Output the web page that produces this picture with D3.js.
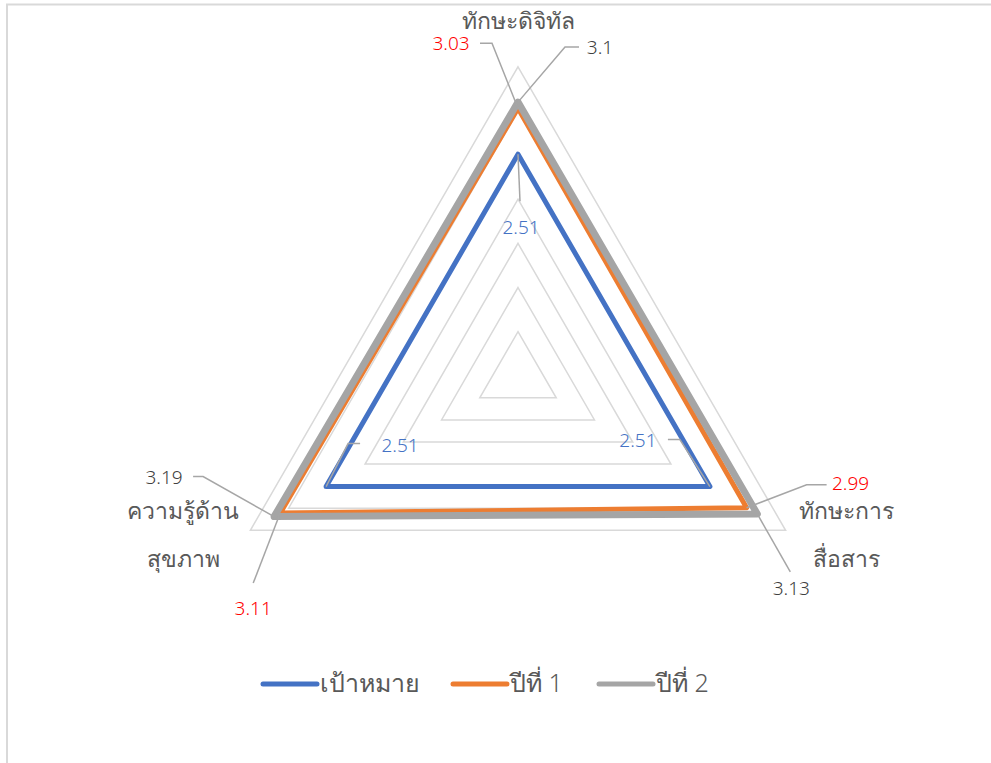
<!DOCTYPE html>
<html><head><meta charset="utf-8">
<script src="https://cdn.jsdelivr.net/npm/d3@7"></script>
<style>
html,body{margin:0;padding:0;background:#fff;}
svg{display:block;}
text{font-family:"Noto Sans","DejaVu Sans",sans-serif;}
</style></head>
<body>
<svg id="chart" width="991" height="763"></svg>
<script>
// ---- data ----
const categories = [["ทักษะดิจิทัล"], ["ทักษะการ", "สื่อสาร"], ["ความรู้ด้าน", "สุขภาพ"]];
const seriesNames = ["เป้าหมาย", "ปีที่ 1", "ปีที่ 2"];
const targetValues = [2.51, 2.51, 2.51];
const year1Values = [3.03, 2.99, 3.11];
const year2Values = [3.1, 3.13, 3.19];
const gridTicks = [0.5, 1, 1.5, 2, 2.5, 3, 3.5];

// ---- layout / style (kept separate from data) ----
const colors = ["#4472C4", "#ED7D31", "#A5A5A5"];
const widths = [5, 5, 7];
const labelColors = ["#4472C4", "#FF0000", "#404040"];
const cx = 518, cy = 375.8, R = 309;
// label placement offsets relative to the data point: [textDx, textDy, elbowDx, elbowDy, endDx, endDy]
const labelOffsets = [
  [[3, 73, 2, 47, 2, 47], [-67, -65, -26, -65, -38, -65], [82, -55, 47, -55, 61, -55]],
  [[-72, -47, -30, -47, -42, -47], [104, -25, 60, -23, 80, -23], [34, 74, 33, 58, 33, 58]],
  [[74, -42, 22, -43, 34, -43], [-27, 95, -27, 70, -27, 70], [-110, -40, -71, -40, -81, -40]]
];

const series = [targetValues, year1Values, year2Values];
const svg = d3.select("#chart");

// border
svg.append("path").attr("d", "M7,763 L7,4.5 L991,4.5").attr("fill", "none")
  .attr("stroke", "#d9d9d9").attr("stroke-width", 2);

const r = d3.scaleLinear().domain([0, 3.5]).range([0, R]);
const angle = d3.scaleLinear().domain([0, categories.length]).range([-Math.PI / 2, 1.5 * Math.PI]);
const pt = (i, v) => [cx + r(v) * Math.cos(angle(i)), cy + r(v) * Math.sin(angle(i))];
const line = d3.line().curve(d3.curveLinearClosed);

// grid
const g = svg.append("g");
g.selectAll("path.grid").data(gridTicks).join("path")
  .attr("class", "grid")
  .attr("d", t => line(categories.map((c, i) => pt(i, t))))
  .attr("fill", "none").attr("stroke", "#d9d9d9").attr("stroke-width", 1.5);

// series
g.selectAll("path.series").data(series).join("path")
  .attr("class", "series")
  .attr("d", vals => line(vals.map((v, i) => pt(i, v))))
  .attr("fill", "none")
  .attr("stroke", (d, k) => colors[k])
  .attr("stroke-width", (d, k) => widths[k])
  .attr("stroke-linejoin", "round");

// data labels with leader lines
series.forEach((vals, k) => {
  vals.forEach((v, i) => {
    const [px, py] = pt(i, v);
    const o = labelOffsets[i][k];
    svg.append("path")
      .attr("d", `M${px},${py} L${px + o[2]},${py + o[3]} L${px + o[4]},${py + o[5]}`)
      .attr("fill", "none").attr("stroke", "#A6A6A6").attr("stroke-width", 1.5);
    svg.append("text")
      .attr("x", px + o[0]).attr("y", py + o[1])
      .attr("text-anchor", "middle").attr("dominant-baseline", "central")
      .attr("fill", labelColors[k]).attr("font-size", 19).attr("font-weight", 300)
      .text(v);
  });
});

// category labels
const catPos = [[518, 20], [846, 510], [183, 510]];
categories.forEach((lines, i) => {
  lines.forEach((t, j) => {
    svg.append("text")
      .attr("x", catPos[i][0]).attr("y", catPos[i][1] + j * 48)
      .attr("text-anchor", "middle").attr("dominant-baseline", "central")
      .attr("fill", "#595959").attr("font-size", 23).attr("font-weight", 300)
      .text(t);
  });
});

// legend
const legX = [263, 453, 599];
seriesNames.forEach((n, k) => {
  svg.append("line").attr("x1", legX[k]).attr("x2", legX[k] + 54)
    .attr("y1", 684).attr("y2", 684)
    .attr("stroke", colors[k]).attr("stroke-width", 5).attr("stroke-linecap", "round");
  svg.append("text").attr("x", legX[k] + 57).attr("y", 682)
    .attr("dominant-baseline", "central")
    .attr("fill", "#595959").attr("font-size", 25).attr("font-weight", 300).text(n);
});
</script>
</body></html>
